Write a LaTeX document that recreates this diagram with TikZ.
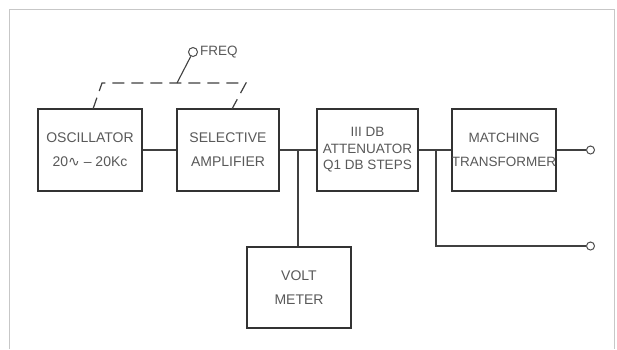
\documentclass[tikz,border=0pt]{standalone}
\usepackage{fontspec}
\setmainfont{Liberation Sans}
\newfontfamily\dejavu{DejaVu Sans}
\begin{document}
\begin{tikzpicture}[x=1pt,y=-1pt,
  blk/.style={draw=black!80, line width=2pt, minimum height=82pt, inner sep=0pt,
    align=center, text=black!65, font=\fontsize{14}{24}\selectfont},
  wire/.style={draw=black!75, line width=1.3pt},
  term/.style={circle, draw=black!70, line width=1pt, fill=white, minimum size=8pt, inner sep=0pt},
  lbl/.style={text=black!65, font=\fontsize{13.5}{16}\selectfont, inner sep=0pt}
]
\useasboundingbox (0,0) rectangle (617,349);
\fill[white] (0,0) rectangle (617,349);
\draw[black!22, line width=1pt] (9,349) -- (9,9.5) -- (614,9.5) -- (614,349);

\node[blk, minimum width=104pt] (osc) at (90,150) {OSCILLATOR\\20{\dejavu ∿} -- 20Kc};
\node[blk, minimum width=102pt] (sel) at (228,150) {SELECTIVE\\AMPLIFIER};
\node[blk, minimum width=101pt, font=\fontsize{13.5}{16.5}\selectfont] (att) at (367.5,150) {III DB\\ATTENUATOR\\Q1 DB STEPS};
\node[blk, minimum width=102pt, font=\fontsize{13.5}{24}\selectfont] (mat) at (504,150) {MATCHING\\TRANSFORMER};
\node[blk, minimum width=104pt, minimum height=81pt] (volt) at (299,287.5) {VOLT\\METER};

\node[term] (out1) at (590.5,150) {};
\node[term] (out2) at (590.5,246) {};
\node[term, minimum size=9pt] (fq) at (193,52) {};
\node[lbl, anchor=west] (fqt) at (200,52) {FREQ};

\coordinate (j1) at (298,150);
\coordinate (j2) at (436,150);
\coordinate (d1) at (93,109);
\coordinate (d2) at (102,83);
\coordinate (d3) at (246,83);
\coordinate (d4) at (232,109);
\coordinate (dm) at (177,83);

\draw[wire] (osc.east) -- (sel.west);
\draw[wire] (sel.east) -- (att.west);
\draw[wire] (j1) -- (j1 |- volt.north);
\draw[wire] (att.east) -- (mat.west);
\draw[wire] (j2) |- (out2);
\draw[wire] (mat.east) -- (out1);
\draw[wire, line width=1.2pt, dash pattern=on 12pt off 7pt] (d1) -- (d2) -- (d3) -- (d4);
\draw[wire, line width=1.1pt] (dm) -- (fq);
\end{tikzpicture}
\end{document}
